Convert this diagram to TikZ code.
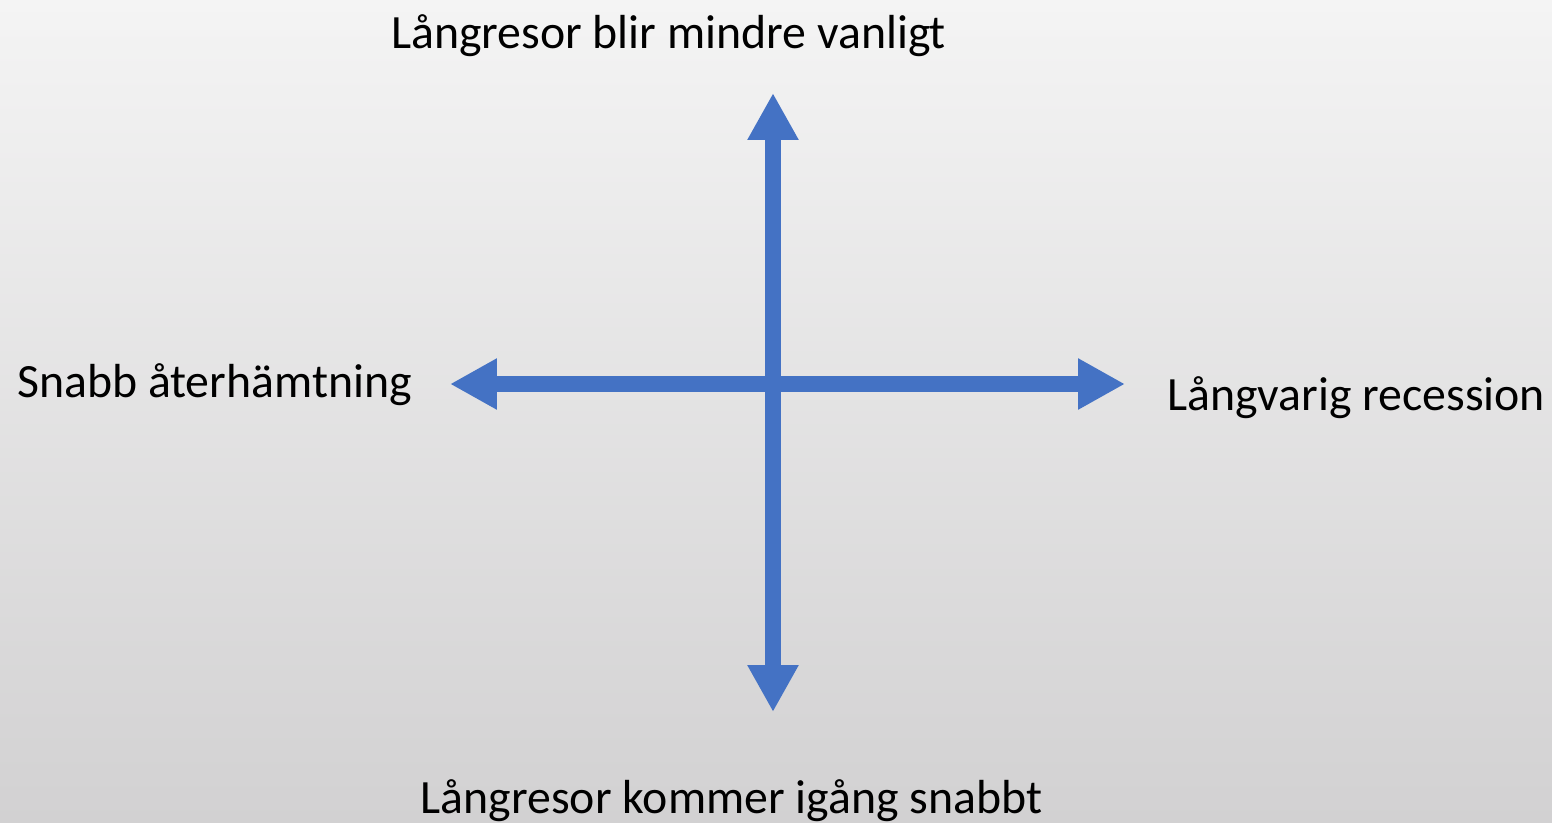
\documentclass[tikz,border=0pt]{standalone}
\usepackage{fontspec}
\setmainfont{Carlito}
\usepackage{xcolor}
\usepackage{tikz}
\usetikzlibrary{arrows.meta}

\definecolor{axisblue}{HTML}{4472C4}
\definecolor{bgtop}{HTML}{F4F4F4}
\definecolor{bgbottom}{HTML}{D2D1D2}

\begin{document}
\begin{tikzpicture}[x=0.02cm,y=-0.02cm,
  axis/.style={axisblue, line width=0.32cm, {Triangle[length=0.94cm,width=0.96cm]}-{Triangle[length=0.94cm,width=0.96cm]}},
  label/.style={inner sep=0pt, anchor=base, font=\fontsize{27.2}{32}\selectfont}]
\useasboundingbox (0,0) rectangle (1552,822);
\shade[top color=bgtop, bottom color=bgbottom] (0,0) rectangle (1552,822);
\coordinate (up) at (773,93);
\coordinate (down) at (773,712);
\coordinate (left) at (450,384);
\coordinate (right) at (1125,384);
\draw[axis] (left) -- (right);
\draw[axis] (down) -- (up);
\node[label] (top) at (668.5,48) {Långresor blir mindre vanligt};
\node[label] (bottom) at (731.5,813) {Långresor kommer igång snabbt};
\node[label] (west) at (214.5,397) {Snabb återhämtning};
\node[label] (east) at (1356,410) {Långvarig recession};
\end{tikzpicture}
\end{document}
